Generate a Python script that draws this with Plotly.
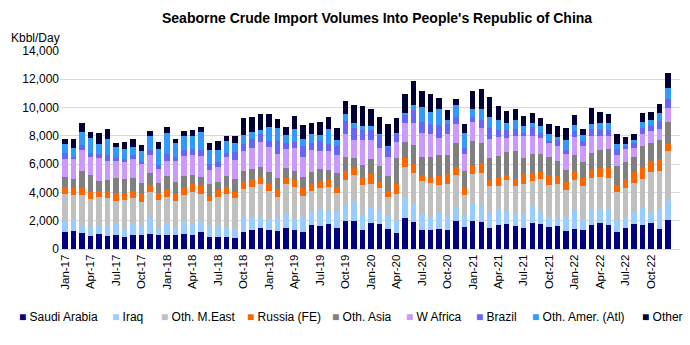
import plotly.graph_objects as go

month_names = ["Jan", "Feb", "Mar", "Apr", "May", "Jun", "Jul", "Aug", "Sep", "Oct", "Nov", "Dec"]
years = ["17", "18", "19", "20", "21", "22"]
months = [f"{m}-{y}" for y in years for m in month_names]

saudi = [1200,1250,1100,920,1030,920,1010,820,1010,960,1080,960,
         1010,990,1060,1010,1180,870,870,820,780,1200,1320,1500,
         1320,1270,1500,1360,1200,1690,1650,1760,1460,2000,2000,1340,
         1830,1760,1430,1150,2160,1930,1320,1320,1390,1320,1970,1570,
         2000,1880,1460,1670,1740,1650,1460,1810,1740,1530,1650,1270,
         1430,1340,1690,1860,1690,1220,1500,1740,1690,1830,1430,2040]
iraq = [730,800,590,590,610,780,800,560,850,680,1080,470,
        800,470,850,750,750,820,780,750,630,960,960,780,
        730,940,1010,730,1030,920,1150,870,1200,1080,1360,1010,
        1130,1010,920,890,1500,1340,1250,960,1130,1030,990,780,
        1150,1180,1010,1060,890,820,1010,1220,940,710,590,1010,
        1320,750,1100,960,1060,820,780,890,1220,800,1320,1460]
oth_me = [1930,1790,2160,2020,2020,1930,1600,2070,1760,1690,1860,2020,
          1900,1950,1930,2260,1930,1690,2040,2300,2230,2070,2120,2300,
          2020,1480,2070,2300,1530,1480,1480,1760,1270,1830,1880,2160,
          1670,1570,1320,1880,2120,2090,2230,2400,2040,2280,2260,1460,
          2160,2330,1970,1760,2230,1970,2160,1790,2260,2280,2350,1880,
          2160,2350,2260,2280,2280,1970,2000,2070,2070,2840,2770,3410]
russia = [490,490,470,490,420,470,520,470,470,540,520,520,
          520,470,450,590,610,400,490,490,420,590,520,490,
          540,540,450,520,520,540,560,520,450,590,520,610,
          680,420,420,680,630,630,400,350,610,660,590,470,
          590,660,470,560,350,540,710,560,520,710,560,560,
          590,590,560,660,730,540,660,750,750,730,820,540]
oth_asia = [750,630,1200,1180,710,780,1080,1010,960,820,800,680,
            960,850,850,610,630,820,540,780,890,680,710,730,
            820,780,730,590,820,800,800,660,1010,1010,710,820,
            1030,1130,1100,1810,1150,1340,1290,1460,1480,1390,1650,1220,
            1740,1460,1550,1550,1650,1930,1130,1360,1290,1250,1080,890,
            1130,1130,1180,1270,1320,1340,1220,1060,1570,1270,1340,1500]
w_africa = [1290,1390,1460,1290,1620,1340,1220,1200,1320,1340,1340,1030,
            1010,1500,1430,1410,1480,1010,1080,1360,1320,1430,1530,1740,
            1790,1740,1290,1620,1410,1600,1320,1360,1250,1650,1270,1740,
            1340,1250,1320,1150,1340,1570,1720,1620,1180,1430,1360,1250,
            1320,1080,1320,1320,1010,1060,1500,1220,1130,990,1060,1080,
            1290,1100,1220,940,890,730,940,630,850,870,820,1010]
brazil = [420,160,380,310,280,400,240,260,260,160,310,280,
          540,280,400,470,450,380,350,310,590,520,610,610,
          420,920,470,450,800,490,680,520,630,870,850,710,
          710,940,730,590,540,940,800,750,920,750,520,420,
          380,520,780,470,520,540,260,660,330,190,400,280,
          420,350,450,420,420,470,160,350,400,350,540,660]
oth_amer = [590,630,890,1080,750,1130,710,710,590,710,990,1130,
            1480,960,1010,870,1220,1030,870,800,660,590,520,240,
            990,870,540,940,470,590,420,1010,450,490,330,280,
            280,70,70,70,160,310,1030,820,1180,240,820,1030,
            590,780,780,710,520,590,470,280,470,470,240,710,
            400,420,400,520,540,350,190,190,400,400,560,730]
other = [380,610,660,420,780,710,280,450,560,470,330,450,
         380,280,350,470,400,490,590,380,450,1220,1010,1180,
         940,680,590,920,990,820,920,870,850,940,1250,1430,
         1200,1180,1550,1060,1360,1720,1150,1290,750,750,420,660,
         1250,1390,1410,990,850,820,680,710,610,680,780,850,
         750,470,1100,780,630,710,470,470,660,630,660,1080]

series = [
    ("Saudi Arabia", saudi, "#000080"),
    ("Iraq", iraq, "#99CCFF"),
    ("Oth. M.East", oth_me, "#C0C0C0"),
    ("Russia (FE)", russia, "#FF6600"),
    ("Oth. Asia", oth_asia, "#808080"),
    ("W Africa", w_africa, "#CC99FF"),
    ("Brazil", brazil, "#6666FF"),
    ("Oth. Amer. (Atl)", oth_amer, "#3399FF"),
    ("Other", other, "#000033"),
]

FONT = "Liberation Sans"
fig = go.Figure()
for name, vals, col in series:
    fig.add_trace(go.Bar(x=months, y=vals, name=name, marker_color=col,
                         marker_line_width=0, showlegend=False))

L, R, T, B = 60, 10, 51, 96
W, H = 690, 345
pw, ph = W - L - R, H - T - B

fig.update_layout(
    width=W, height=H, barmode="stack", bargap=0.36,
    margin=dict(l=L, r=R, t=T, b=B),
    paper_bgcolor="white", plot_bgcolor="white",
    font=dict(family=FONT, size=12, color="#000000"),
    xaxis=dict(type="category", range=[-0.6, 72.4], tickangle=-90,
               tickmode="array", tickvals=months[::3], ticktext=months[::3],
               tickfont=dict(size=11.5), showgrid=False, showline=True,
               linecolor="#D9D9D9", linewidth=1, ticks=""),
    yaxis=dict(range=[0, 14000], dtick=2000, tickformat=",d", showgrid=True,
               gridcolor="#D9D9D9", gridwidth=1, zeroline=False, showline=False,
               tickfont=dict(size=12), ticks=""),
)

fig.add_annotation(text="<b>Seaborne Crude Import Volumes Into People's Republic of China</b>",
                   xref="paper", yref="paper", x=(377 - L) / pw, y=(H - B - 18) / ph,
                   xanchor="center", yanchor="middle", showarrow=False,
                   font=dict(size=14, family=FONT))
fig.add_annotation(text="Kbbl/Day", xref="paper", yref="paper",
                   x=(9 - L) / pw, y=(H - B - 38) / ph, xanchor="left", yanchor="middle",
                   showarrow=False, font=dict(size=12, family=FONT))

legend_x = [17, 110, 159, 245, 330, 404, 474, 530, 640]
for (name, vals, col), lx in zip(series, legend_x):
    fig.add_annotation(text=f"<span style='color:{col}'>■</span> {name}",
                       xref="paper", yref="paper", x=(lx - L) / pw, y=(H - B - 317) / ph,
                       xanchor="left", yanchor="middle", showarrow=False,
                       font=dict(size=12, family=FONT))

fig.write_html("out.html")
